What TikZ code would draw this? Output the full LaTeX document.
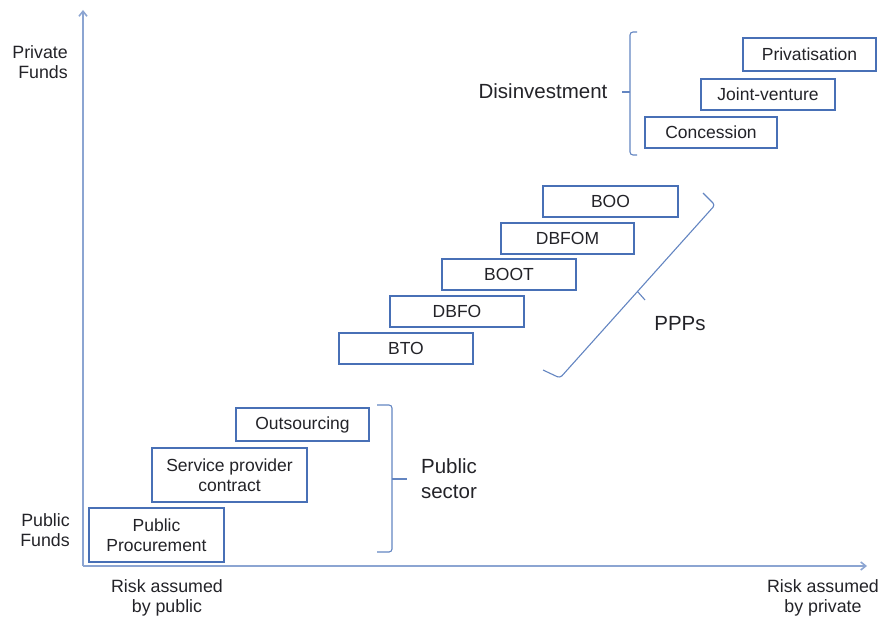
\documentclass[tikz,border=0pt]{standalone}
\usepackage{fontspec}
\setmainfont{Liberation Sans}
\usetikzlibrary{arrows.meta}
\definecolor{boxblue}{RGB}{72,112,182}
\definecolor{axisblue}{RGB}{140,165,210}
\definecolor{ink}{RGB}{35,35,40}
\begin{document}
\begin{tikzpicture}[x=1pt,y=-1pt,
  box/.style={draw=boxblue,line width=2pt,fill=white,inner sep=0pt,outer sep=0pt,align=center,
    text=ink,font=\fontsize{17.5}{20}\selectfont},
  lbl/.style={text=ink,inner sep=0pt,font=\fontsize{17.8}{20}\selectfont},
  biglbl/.style={text=ink,inner sep=0pt,align=center,font=\fontsize{20.5}{25}\selectfont},
  axis/.style={draw=axisblue,line width=1.6pt,-{Straight Barb[length=5pt,width=8pt]}},
  brace/.style={draw=boxblue!85,line width=1.1pt,rounded corners=3pt}]
\useasboundingbox (0,0) rectangle (882,620);

% axes
\coordinate (origin) at (83,566);
\coordinate (ytop) at (83,10);
\coordinate (xend) at (867,566);
\draw[axis] (origin) -- (ytop);
\draw[axis] (origin) -- (xend);

% axis labels
\node[lbl,align=right,anchor=east] (privfunds) at (68,62) {Private\\Funds};
\node[lbl,align=right,anchor=east] (pubfunds) at (70,530) {Public\\Funds};
\node[lbl,align=center] (riskpub) at (167,598) {Risk assumed\\by public};
\node[lbl,align=center] (riskpriv) at (823,598) {Risk assumed\\by private};

% public sector
\node[box,minimum width=135pt,minimum height=54pt] (pp) at (156.5,535) {Public\\Procurement};
\node[box,minimum width=155pt,minimum height=54pt] (spc) at (229.5,475) {Service provider\\contract};
\node[box,minimum width=133pt,minimum height=33pt] (outs) at (302.5,424.5) {Outsourcing};

% PPPs
\node[box,minimum width=134pt,minimum height=31pt] (bto) at (406,348.5) {BTO};
\node[box,minimum width=134pt,minimum height=31pt] (dbfo) at (457,311.5) {DBFO};
\node[box,minimum width=134pt,minimum height=31pt] (boot) at (509,274.5) {BOOT};
\node[box,minimum width=133pt,minimum height=31pt] (dbfom) at (567.5,238.5) {DBFOM};
\node[box,minimum width=135pt,minimum height=31pt] (boo) at (610.5,201.5) {BOO};

% disinvestment
\node[box,minimum width=132pt,minimum height=31pt] (con) at (711,132.5) {Concession};
\node[box,minimum width=134pt,minimum height=31pt] (jv) at (768,94.5) {Joint-venture};
\node[box,minimum width=133pt,minimum height=33pt] (prv) at (809.5,54.5) {Privatisation};

% brackets and group labels
\draw[brace] (377,405) -- (392,405) -- (392,552) -- (377,552);
\draw[brace] (392,479) -- (407,479);
\node[biglbl] (pubsec) at (449,479) {Public\\sector};

\draw[brace] (703,193) -- (715,205) -- (560,378) -- (543,370);
\draw[brace] (637.5,291.5) -- (645,300);
\node[biglbl] (ppps) at (680,324) {PPPs};

\draw[brace] (637,32) -- (630,32) -- (630,155) -- (637,155);
\draw[brace] (630,92) -- (622,92);
\node[biglbl] (disinv) at (543,91) {Disinvestment};
\end{tikzpicture}
\end{document}
